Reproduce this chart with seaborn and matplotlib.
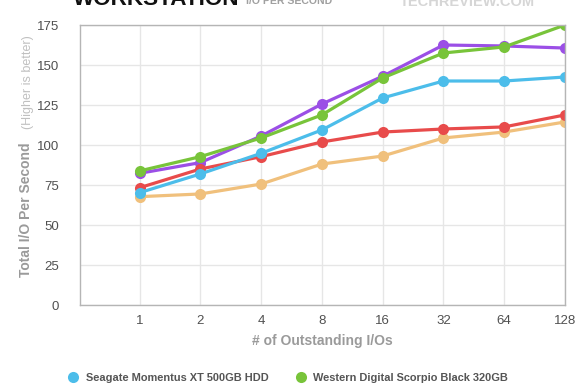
import matplotlib
matplotlib.use("Agg")
import matplotlib.pyplot as plt
from matplotlib.lines import Line2D
import seaborn as sns
import pandas as pd

categories = ["1", "2", "4", "8", "16", "32", "64", "128"]
seagate_xt = [70.2, 81.9, 94.8, 109.4, 129.4, 140.0, 140.0, 142.5]
wd_scorpio = [83.8, 92.7, 104.4, 118.8, 141.9, 157.5, 161.3, 175.0]
purple_drive = [82.3, 89.0, 105.6, 125.6, 143.0, 162.5, 161.9, 160.6]
red_drive = [73.3, 85.0, 92.7, 101.9, 108.1, 110.0, 111.3, 118.8]
orange_drive = [67.7, 69.4, 75.6, 88.1, 93.1, 104.4, 108.1, 114.4]

series = [
    ("Drive C", purple_drive, "#9b4fe6"),
    ("Drive E", orange_drive, "#f0c07c"),
    ("Drive D", red_drive, "#e84b4b"),
    ("Seagate Momentus XT 500GB HDD", seagate_xt, "#4cbdea"),
    ("Western Digital Scorpio Black 320GB", wd_scorpio, "#78c43a"),
]

sns.set_theme(style="white")
plt.rcParams["font.family"] = ["Liberation Sans", "DejaVu Sans"]

fig = plt.figure(figsize=(5.8, 3.9), dpi=100)
ax = fig.add_axes([80 / 580, 85 / 390, 485 / 580, 280 / 390])

for name, vals, col in series:
    df = pd.DataFrame({"pos": range(1, len(categories) + 1), "val": vals})
    sns.lineplot(data=df, x="pos", y="val", ax=ax, color=col, linewidth=2.3,
                 marker="o", markersize=8, markeredgewidth=0, label=name,
                 legend=False)

ax.set_xlim(0.02, 8)
ax.set_ylim(0, 175)
ax.set_xticks(range(1, len(categories) + 1))
ax.set_xticklabels(categories)
ax.set_yticks(range(0, 176, 25))
ax.tick_params(axis="both", length=0, labelsize=9.5, labelcolor="#505050")
ax.tick_params(axis="x", pad=7)
ax.tick_params(axis="y", pad=15)
ax.grid(True, color="#e6e6e6", linewidth=1)
for s in ax.spines.values():
    s.set_color("#b5b5b5")
    s.set_linewidth(1)

ax.set_xlabel("# of Outstanding I/Os", fontsize=10, fontweight="bold",
              color="#9a9a9a", labelpad=5)
ax.set_ylabel("")
fig.text(26 / 580, 1 - 210 / 390, "Total I/O Per Second", rotation=90,
         fontsize=10, fontweight="bold", color="#9a9a9a", ha="center", va="center")
fig.text(28 / 580, 1 - 82 / 390, "(Higher is better)", rotation=90,
         fontsize=9, color="#c0c0c0", ha="center", va="center")

fig.text(73 / 580, 1 - 5 / 390, "WORKSTATION", fontsize=16.2, fontweight="bold",
         color="#111111", ha="left", va="baseline")
fig.text(246 / 580, 1 - 4 / 390, "I/O PER SECOND", fontsize=7.6, fontweight="bold",
         color="#a0a0a0", ha="left", va="baseline")
fig.text(400 / 580, 1 - 6 / 390, "TECHREVIEW.COM", fontsize=10.5, fontweight="bold",
         color="#d6d6d6", ha="left", va="baseline")

handles = [
    Line2D([], [], linestyle="none", marker="o", markersize=8, markeredgewidth=0,
           color=series[3][2], label=series[3][0]),
    Line2D([], [], linestyle="none", marker="o", markersize=8, markeredgewidth=0,
           color=series[4][2], label=series[4][0]),
]
leg = fig.legend(handles=handles, loc="center left", ncol=2,
                 bbox_to_anchor=(57 / 580, 1 - 378 / 390), frameon=False,
                 fontsize=7.9, handletextpad=0.55, columnspacing=2.3,
                 handlelength=1.2)
for t in leg.get_texts():
    t.set_color("#555555")
    t.set_fontweight("bold")

fig.savefig("out.png", dpi=100)
